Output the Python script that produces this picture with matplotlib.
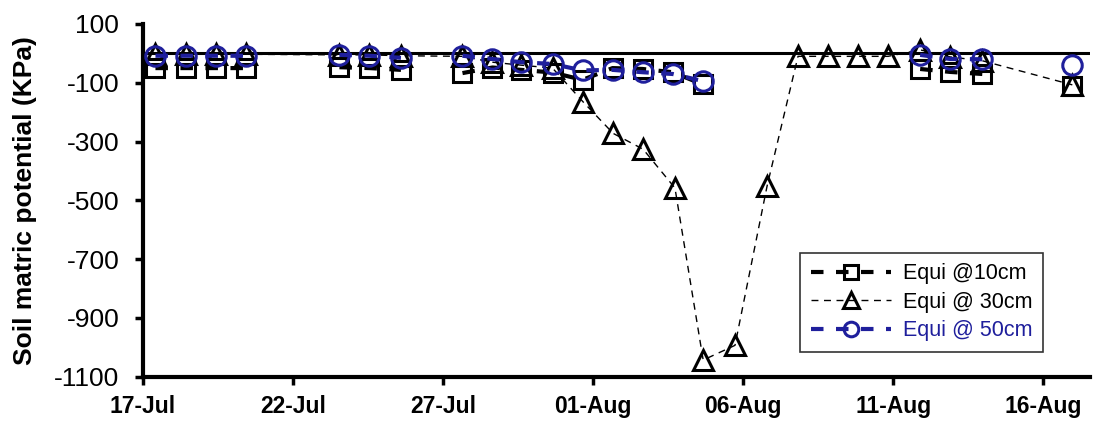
import numpy as np
import matplotlib
matplotlib.use("Agg")
import matplotlib.pyplot as plt

plt.rcParams['font.family'] = ['Liberation Sans', 'DejaVu Sans']

nan = np.nan

# days after 17-Jul (nan breaks the line between measurement groups)
sq_days = [0.42, 1.45, 2.45, 3.45, nan, 6.55, 7.55, 8.6, nan,
           10.65, 11.65, 12.6, 13.65, 14.65, 15.65, 16.65, 17.65, 18.65, nan,
           25.9, 26.9, 27.97, nan, 30.97]
equi_10 = [-50, -50, -50, -50, nan, -47, -50, -56, nan,
           -67, -48, -56, -65, -90, -50, -53, -64, -105, nan,
           -53, -63, -70, nan, -112]
equi_50 = [-8, -8, -8, -8, nan, -5, -8, -15, nan,
           -8, -19, -30, -36, -58, -56, -64, -70, -94, nan,
           -5, -19, -20, nan, -40]

tri_days = [0.42, 1.45, 2.45, 3.45, 6.55, 7.55, 8.6,
            10.65, 11.65, 12.6, 13.65, 14.67, 15.67, 16.67, 17.73, 18.67,
            19.73, 20.8, 21.83, 22.83, 23.83, 24.83, 25.9, 26.9, 27.97, 30.97]
equi_30 = [-3, -3, -3, -3, -5, -5, -8,
           -10, -30, -40, -50, -165, -272, -326, -458, -1043,
           -993, -451, -10, -10, -10, -10, 12, -12, -25, -107]

tick_days = [0, 5, 10, 15, 20, 25, 30]
tick_labels = ['17-Jul', '22-Jul', '27-Jul', '01-Aug', '06-Aug', '11-Aug', '16-Aug']
y_ticks = [-1100, -900, -700, -500, -300, -100, 100]

blue = '#1f1f9c'

fig = plt.figure(figsize=(11.16, 4.21), dpi=100)
ax = fig.add_axes([0.128, 0.105, 0.849, 0.838])

ax.axhline(0, color='black', lw=2.2, zorder=1)

ax.plot(sq_days, equi_10, color='black', lw=3, ls=(0, (3, 3)),
        marker='s', ms=13, mfc='none', mec='black', mew=2.2,
        label='Equi @10cm', zorder=3)
ax.plot(tri_days, equi_30, color='black', lw=1, ls=(0, (5, 4)),
        marker='^', ms=15, mfc='none', mec='black', mew=2.2,
        label='Equi @ 30cm', zorder=4)
ax.plot(sq_days, equi_50, color=blue, lw=3, ls=(0, (3, 3)),
        marker='o', ms=14, mfc='none', mec=blue, mew=2.2,
        label='Equi @ 50cm', zorder=5)

ax.set_xlim(0, 31.57)
ax.set_ylim(-1100, 100)
ax.set_xticks(tick_days)
ax.set_xticklabels(tick_labels, fontsize=16.5, fontweight='bold')
ax.set_yticks(y_ticks)
ax.set_yticklabels([str(v) for v in y_ticks], fontsize=19)
ax.set_ylabel('Soil matric potential (KPa)', fontsize=19, fontweight='bold', labelpad=12)

for s in ['top', 'right']:
    ax.spines[s].set_visible(False)
for s in ['left', 'bottom']:
    ax.spines[s].set_linewidth(3)
ax.tick_params(axis='both', direction='out', length=6, width=2.5)
ax.tick_params(axis='y', pad=11)
ax.tick_params(axis='x', pad=7)

leg = ax.legend(loc='lower right', bbox_to_anchor=(0.950, 0.07), fontsize=15.5,
                numpoints=1, handlelength=3.7, markerscale=0.75, frameon=True,
                fancybox=False, borderpad=0.5, labelspacing=0.35,
                handletextpad=0.55, borderaxespad=0)
leg.get_frame().set_edgecolor('black')
leg.get_frame().set_linewidth(1.2)
for t, c in zip(leg.get_texts(), ['black', 'black', blue]):
    t.set_color(c)

fig.savefig('out.png', dpi=100)
